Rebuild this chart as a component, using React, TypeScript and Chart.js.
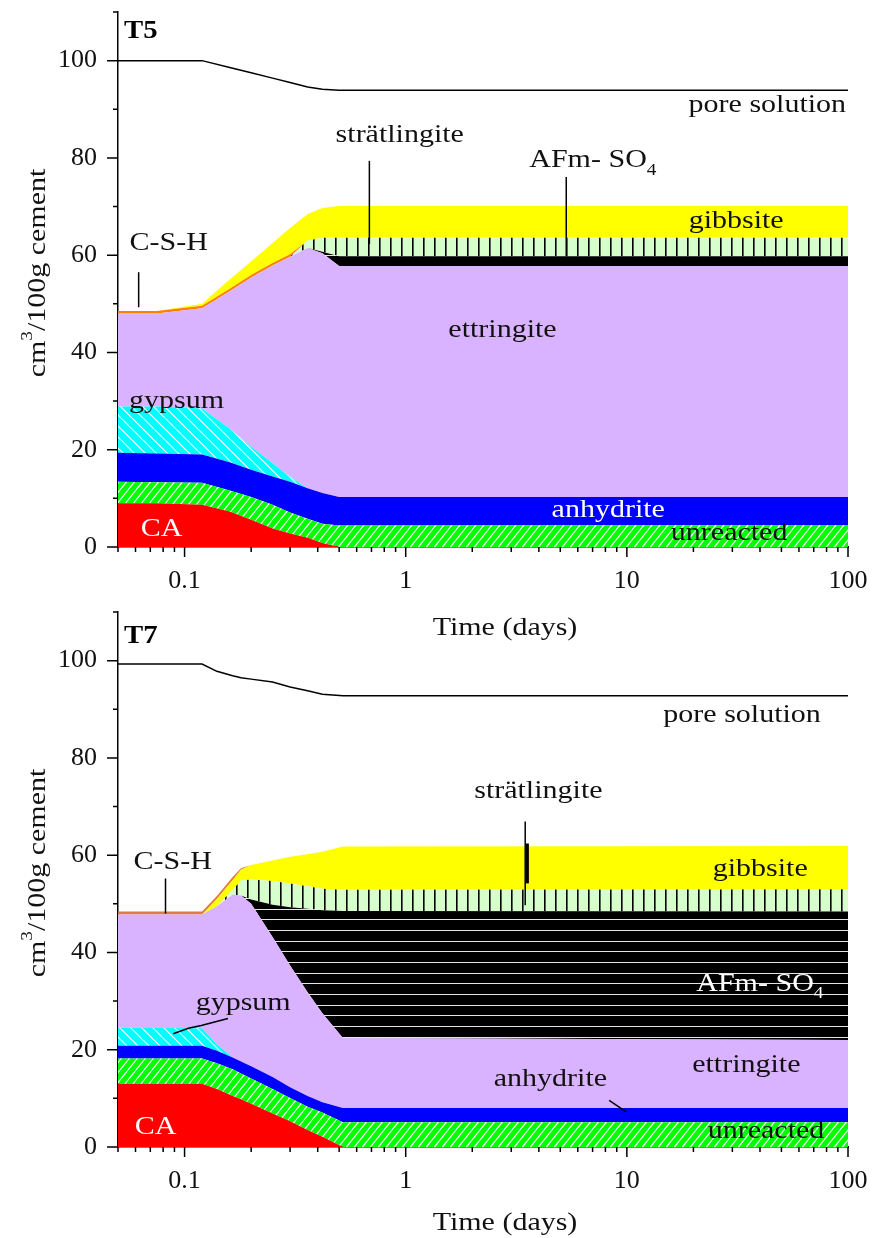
import React, { useEffect, useRef } from 'react';
import { Chart, registerables } from 'chart.js';

Chart.register(...registerables);

const SERIF = '"Liberation Serif", "Times New Roman", Times, serif';

// ---------------- axis ticks ----------------
const xMajorTicks = [0.1, 1, 10, 100];
const xTickLabels = ['0.1', '1', '10', '100'];
const xMinorTicks = [0.05, 0.06, 0.07, 0.08, 0.09, 0.2, 0.3, 0.4, 0.5, 0.6, 0.7, 0.8, 0.9, 2, 3, 4, 5, 6, 7, 8, 9, 20, 30, 40, 50, 60, 70, 80, 90];
const yMajorTicks = [0, 20, 40, 60, 80, 100];
const yMinorTicks = [10, 30, 50, 70, 90, 110];

// ---------------- T5 (volumes per phase, cm3/100 g cement) ----------------
const timesT5 = [0.05, 0.075, 0.12, 0.16, 0.2, 0.25, 0.3, 0.36, 0.42, 0.5, 100];
const caT5 = [9.0, 9.0, 8.7, 7.3, 5.6, 3.8, 2.8, 1.9, 0.8, 0, 0];
const unreactedT5 = [4.4, 4.3, 4.5, 4.3, 4.7, 4.9, 4.3, 3.9, 4.0, 4.4, 4.5];
const anhydriteT5 = [6.0, 5.9, 5.8, 5.8, 5.6, 5.8, 6.3, 6.3, 6.3, 5.9, 5.8];
const gypsumT5 = [9.5, 9.7, 9.5, 6.9, 4.7, 2.7, 1.0, 0, 0, 0, 0];
const ettringiteT5 = [19.1, 19.1, 20.6, 28.3, 34.8, 40.7, 45.3, 49.4, 49.3, 47.5, 47.5];
const afmT5 = [0, 0, 0, 0, 0, 0, 0, 0, 0.3, 2.0, 2.0];
const stratlingiteT5 = [0, 0, 0, 0, 0, 0, 0, 1.5, 2.9, 3.8, 3.8];
const cshT5 = [0.5, 0.5, 0.5, 0.5, 0.5, 0.5, 0.5, 0, 0, 0, 0];
const gibbsiteT5 = [0, 0, 0.4, 1.9, 2.8, 4.1, 5.4, 5.4, 6.1, 6.5, 6.5];
const poreT5 = [100, 100, 100, 98.6, 97.5, 96.4, 95.5, 94.6, 94.1, 93.9, 93.9];

// ---------------- T7 ----------------
const timesT7 = [0.05, 0.12, 0.14, 0.165, 0.18, 0.2, 0.25, 0.3, 0.36, 0.42, 0.52, 100];
const caT7 = [13.0, 13.0, 11.9, 10.5, 9.8, 8.9, 6.9, 5.3, 3.5, 2.1, 0, 0];
const unreactedT7 = [5.2, 5.2, 5.3, 5.5, 5.3, 5.2, 5.0, 4.8, 4.8, 5.0, 5.1, 5.1];
const anhydriteT7 = [2.6, 2.6, 2.6, 2.4, 2.5, 2.5, 2.5, 2.2, 2.2, 2.1, 2.9, 2.9];
const gypsumT7 = [3.7, 3.6, 1.3, 0, 0, 0, 0, 0, 0, 0, 0, 0];
const ettringiteT7 = [23.3, 23.4, 28.4, 33.5, 34.1, 33.4, 28.8, 25.0, 21.3, 18.3, 14.4, 14.0];
const afmT7 = [0, 0, 0, 0, 0, 0.9, 6.6, 12.0, 17.2, 21.2, 26.1, 26.4];
const stratlingiteT7 = [0, 0, 0, 1.0, 3.1, 4.1, 4.9, 4.9, 4.6, 4.4, 4.4, 4.6];
const gibbsiteT7 = [0, 0, 1.5, 2.0, 2.2, 3.0, 4.2, 5.5, 6.6, 7.6, 8.9, 8.9];
const cshT7 = [0.6, 0.6, 0.6, 0.6, 0.3, 0, 0, 0, 0, 0, 0, 0];
const poreT7 = [99.3, 99.3, 97.8, 96.9, 96.5, 96.2, 95.6, 94.6, 93.8, 93.1, 92.8, 92.8];

// ---------------- fills ----------------
function tile(w: number, h: number, bg: string, draw: (c: CanvasRenderingContext2D) => void) {
  const cv = document.createElement('canvas');
  cv.width = w;
  cv.height = h;
  const c = cv.getContext('2d')!;
  c.fillStyle = bg;
  c.fillRect(0, 0, w, h);
  draw(c);
  return c.createPattern(cv, 'repeat')!;
}

function makeFills(cshColor: string): Record<string, string | CanvasPattern> {
  const diagUp = tile(8, 10, '#00ff00', (c) => {
    c.strokeStyle = '#ffffff';
    c.lineWidth = 1.2;
    c.beginPath();
    for (const o of [-8, 0, 8]) {
      c.moveTo(o, 10);
      c.lineTo(o + 8, 0);
    }
    c.stroke();
  });
  const diagDown = tile(11, 11, '#00ffff', (c) => {
    c.strokeStyle = '#ffffff';
    c.lineWidth = 1.2;
    c.beginPath();
    for (const o of [-11, 0, 11]) {
      c.moveTo(o, 0);
      c.lineTo(o + 11, 11);
    }
    c.stroke();
  });
  const horiz = tile(8, 32, '#000000', (c) => {
    c.fillStyle = '#e4e4e4';
    c.fillRect(0, 10, 8, 1);
    c.fillRect(0, 21, 8, 1);
    c.fillRect(0, 31, 8, 1);
  });
  const vert = tile(11, 8, '#d6ffcc', (c) => {
    c.fillStyle = '#000000';
    c.fillRect(5, 0, 1.6, 8);
  });
  return {
    CA: '#ff0000',
    unreacted: diagUp,
    anhydrite: '#0000ff',
    gypsum: diagDown,
    ettringite: '#d9b3ff',
    'AFm-SO4': horiz,
    strätlingite: vert,
    'C-S-H': cshColor,
    gibbsite: '#ffff00',
  };
}

// ---------------- panels ----------------
type Lbl = { text: string; t: number; v: number; align: 'left' | 'center' | 'right'; color?: string; sub?: string };
type Leader = { pts: [number, number][]; w: number };

const panelT5 = {
  name: 'T5',
  titleY: 32,
  xTitleY: 628,
  cshColor: '#ff8000',
  times: timesT5,
  pore: poreT5,
  layers: [
    { name: 'CA', values: caT5 },
    { name: 'unreacted', values: unreactedT5 },
    { name: 'anhydrite', values: anhydriteT5 },
    { name: 'gypsum', values: gypsumT5 },
    { name: 'ettringite', values: ettringiteT5 },
    { name: 'AFm-SO4', values: afmT5 },
    { name: 'strätlingite', values: stratlingiteT5 },
    { name: 'C-S-H', values: cshT5 },
    { name: 'gibbsite', values: gibbsiteT5 },
  ],
  labels: [
    { text: 'pore solution', t: 98, v: 90.7, align: 'right' },
    { text: 'strätlingite', t: 0.94, v: 84.6, align: 'center' },
    { text: 'AFm- SO', t: 3.62, v: 79.4, align: 'left', sub: '4' },
    { text: 'gibbsite', t: 31.2, v: 67.0, align: 'center' },
    { text: 'C-S-H', t: 0.0847, v: 62.5, align: 'center' },
    { text: 'ettringite', t: 2.74, v: 44.6, align: 'center' },
    { text: 'gypsum', t: 0.092, v: 30.0, align: 'center' },
    { text: 'CA', t: 0.0787, v: 3.6, align: 'center', color: '#ffffff' },
    { text: 'anhydrite', t: 8.24, v: 7.6, align: 'center', color: '#ffffff' },
    { text: 'unreacted', t: 29.0, v: 2.8, align: 'center' },
  ] as Lbl[],
  leaders: [
    { pts: [[0.685, 79.4], [0.685, 62.3]], w: 1.5 },
    { pts: [[5.32, 76.1], [5.32, 59.8]], w: 1.5 },
    { pts: [[0.062, 56.5], [0.062, 49.3]], w: 1.5 },
  ] as Leader[],
};

const panelT7 = {
  name: 'T7',
  titleY: 37,
  xTitleY: 623,
  cshColor: '#e2793f',
  times: timesT7,
  pore: poreT7,
  layers: [
    { name: 'CA', values: caT7 },
    { name: 'unreacted', values: unreactedT7 },
    { name: 'anhydrite', values: anhydriteT7 },
    { name: 'gypsum', values: gypsumT7 },
    { name: 'ettringite', values: ettringiteT7 },
    { name: 'AFm-SO4', values: afmT7 },
    { name: 'strätlingite', values: stratlingiteT7 },
    { name: 'gibbsite', values: gibbsiteT7 },
    { name: 'C-S-H', values: cshT7 },
  ],
  labels: [
    { text: 'pore solution', t: 33.2, v: 88.8, align: 'center' },
    { text: 'strätlingite', t: 3.98, v: 73.2, align: 'center' },
    { text: 'gibbsite', t: 40.1, v: 57.1, align: 'center' },
    { text: 'C-S-H', t: 0.0883, v: 58.5, align: 'center' },
    { text: 'AFm- SO', t: 20.6, v: 33.5, align: 'left', sub: '4', color: '#ffffff' },
    { text: 'ettringite', t: 34.7, v: 16.8, align: 'center' },
    { text: 'anhydrite', t: 4.51, v: 13.9, align: 'center' },
    { text: 'unreacted', t: 42.6, v: 3.2, align: 'center' },
    { text: 'gypsum', t: 0.184, v: 29.6, align: 'center' },
    { text: 'CA', t: 0.074, v: 4.1, align: 'center', color: '#ffffff' },
  ] as Lbl[],
  leaders: [
    { pts: [[3.47, 66.9], [3.47, 49.7]], w: 1.5 },
    { pts: [[3.55, 62.4], [3.55, 54.2]], w: 3 },
    { pts: [[0.082, 55.2], [0.082, 48.0]], w: 1.5 },
    { pts: [[8.32, 9.6], [9.93, 7.2]], w: 1.5 },
    { pts: [[0.0889, 23.3], [0.104, 24.4], [0.119, 25.0], [0.157, 26.4]], w: 1.5 },
  ] as Leader[],
};

// ---------------- text helper ----------------
type Seg = { text: string; rise?: number; small?: boolean };
function drawRich(
  ctx: CanvasRenderingContext2D,
  segs: Seg[],
  x: number,
  y: number,
  align: 'left' | 'center' | 'right',
  size: number,
  color: string,
  bold = false,
  sx = 1.2
) {
  const big = `${bold ? 'bold ' : ''}${size}px ${SERIF}`;
  const small = `${Math.round(size * 0.62)}px ${SERIF}`;
  ctx.save();
  let w = 0;
  const widths = segs.map((s) => {
    ctx.font = s.small ? small : big;
    const m = ctx.measureText(s.text).width;
    w += m;
    return m;
  });
  const total = w * sx;
  const left = align === 'center' ? x - total / 2 : align === 'right' ? x - total : x;
  ctx.translate(left, y);
  ctx.scale(sx, 1);
  ctx.fillStyle = color;
  ctx.textBaseline = 'middle';
  ctx.textAlign = 'left';
  let cx = 0;
  segs.forEach((s, i) => {
    ctx.font = s.small ? small : big;
    ctx.fillText(s.text, cx, (s.rise || 0) * size);
    cx += widths[i];
  });
  ctx.restore();
}

function PhaseChart({ panel, top, height }: { panel: typeof panelT5; top: number; height: number }) {
  const ref = useRef<HTMLCanvasElement>(null);

  useEffect(() => {
    const canvas = ref.current!;
    const fills = makeFills(panel.cshColor);
    const datasets: any[] = panel.layers.map((l, i) => ({
      label: l.name,
      data: panel.times.map((t, j) => ({ x: t, y: l.values[j] })),
      backgroundColor: fills[l.name],
      borderColor: 'rgba(0,0,0,0)',
      borderWidth: 1,
      pointRadius: 0,
      tension: 0,
      fill: i === 0 ? 'origin' : '-1',
      yAxisID: 'y',
    }));
    datasets.push({
      label: 'pore solution',
      data: panel.times.map((t, j) => ({ x: t, y: panel.pore[j] })),
      borderColor: '#000000',
      borderWidth: 1.5,
      pointRadius: 0,
      tension: 0,
      fill: false,
      yAxisID: 'y2',
    });

    const decor = {
      id: 'decor',
      afterDraw(chart: any) {
        const { ctx, chartArea } = chart;
        const xs = chart.scales.x;
        const ys = chart.scales.y;
        ctx.save();
        ctx.strokeStyle = '#000';
        ctx.lineWidth = 1.5;
        ctx.beginPath();
        for (const v of xMajorTicks) {
          const px = xs.getPixelForValue(v);
          ctx.moveTo(px, chartArea.bottom);
          ctx.lineTo(px, chartArea.bottom + 10);
        }
        for (const v of xMinorTicks) {
          const px = xs.getPixelForValue(v);
          ctx.moveTo(px, chartArea.bottom);
          ctx.lineTo(px, chartArea.bottom + 5);
        }
        for (const v of yMajorTicks) {
          const py = ys.getPixelForValue(v);
          ctx.moveTo(chartArea.left - 11, py);
          ctx.lineTo(chartArea.left, py);
        }
        for (const v of yMinorTicks) {
          const py = ys.getPixelForValue(v);
          ctx.moveTo(chartArea.left - 5, py);
          ctx.lineTo(chartArea.left, py);
        }
        ctx.stroke();

        // leader lines
        for (const ld of panel.leaders) {
          ctx.lineWidth = ld.w;
          ctx.beginPath();
          ld.pts.forEach(([t, v], k) => {
            const px = xs.getPixelForValue(t);
            const py = ys.getPixelForValue(v);
            if (k === 0) ctx.moveTo(px, py);
            else ctx.lineTo(px, py);
          });
          ctx.stroke();
        }

        // phase labels
        for (const lb of panel.labels) {
          const px = xs.getPixelForValue(lb.t);
          const py = ys.getPixelForValue(lb.v);
          const segs: Seg[] = [{ text: lb.text }];
          if (lb.sub) segs.push({ text: lb.sub, small: true, rise: 0.38 });
          drawRich(ctx, segs, px, py, lb.align, 25, lb.color || '#111111');
        }

        // panel name
        drawRich(ctx, [{ text: panel.name }], chartArea.left + 6, panel.titleY, 'left', 25, '#000', true, 1.15);

        // x title
        drawRich(ctx, [{ text: 'Time (days)' }], (chartArea.left + chartArea.right) / 2 + 22, panel.xTitleY, 'center', 25, '#111');

        // y title
        ctx.save();
        ctx.translate(38, 273);
        ctx.rotate(-Math.PI / 2);
        drawRich(
          ctx,
          [{ text: 'cm' }, { text: '3', small: true, rise: -0.4 }, { text: '/100g cement' }],
          0,
          0,
          'center',
          25,
          '#111'
        );
        ctx.restore();
        ctx.restore();
      },
    };

    const chart = new Chart(canvas, {
      type: 'line',
      data: { datasets },
      options: {
        responsive: false,
        animation: false,
        events: [],
        layout: { padding: { left: 0, right: 24, top: 12, bottom: 0 } },
        plugins: { legend: { display: false }, tooltip: { enabled: false } },
        scales: {
          x: {
            type: 'logarithmic',
            min: 0.05,
            max: 100,
            grid: { display: false, drawTicks: false },
            border: { display: true, color: '#000', width: 1.5 },
            afterBuildTicks: (s: any) => {
              s.ticks = [...xMinorTicks, ...xMajorTicks].sort((a, b) => a - b).map((v) => ({ value: v }));
            },
            afterFit: (s: any) => {
              s.height = height - 547;
              s.paddingLeft = 0;
              s.paddingRight = 0;
            },
            ticks: {
              autoSkip: false,
              maxRotation: 0,
              minRotation: 0,
              padding: 19,
              color: '#111',
              font: { family: SERIF, size: 26 },
              callback: (v: any) => {
                const k = xMajorTicks.indexOf(Number(v));
                return k >= 0 ? xTickLabels[k] : '';
              },
            },
          },
          y: {
            type: 'linear',
            stacked: true,
            min: 0,
            max: 110,
            grid: { display: false, drawTicks: false },
            border: { display: true, color: '#000', width: 1.5 },
            afterBuildTicks: (s: any) => {
              s.ticks = [...yMajorTicks, ...yMinorTicks].sort((a, b) => a - b).map((v) => ({ value: v }));
            },
            afterFit: (s: any) => {
              s.width = 118;
              s.paddingTop = 0;
              s.paddingBottom = 0;
            },
            ticks: {
              autoSkip: false,
              padding: 21,
              color: '#111',
              font: { family: SERIF, size: 26 },
              callback: (v: any) => (yMajorTicks.includes(Number(v)) ? String(v) : ''),
            },
          },
          y2: { type: 'linear', display: false, min: 0, max: 110 },
        },
      } as any,
      plugins: [decor],
    });
    return () => chart.destroy();
  }, [panel, height]);

  return (
    <canvas
      ref={ref}
      width={872}
      height={height}
      style={{ position: 'absolute', left: 0, top, width: 872, height, display: 'block' }}
    />
  );
}

export default function App() {
  return (
    <div style={{ position: 'absolute', left: 0, top: 0, width: 872, height: 1238, background: '#ffffff', overflow: 'hidden' }}>
      <PhaseChart panel={panelT5} top={0} height={650} />
      <PhaseChart panel={panelT7} top={600} height={638} />
    </div>
  );
}
